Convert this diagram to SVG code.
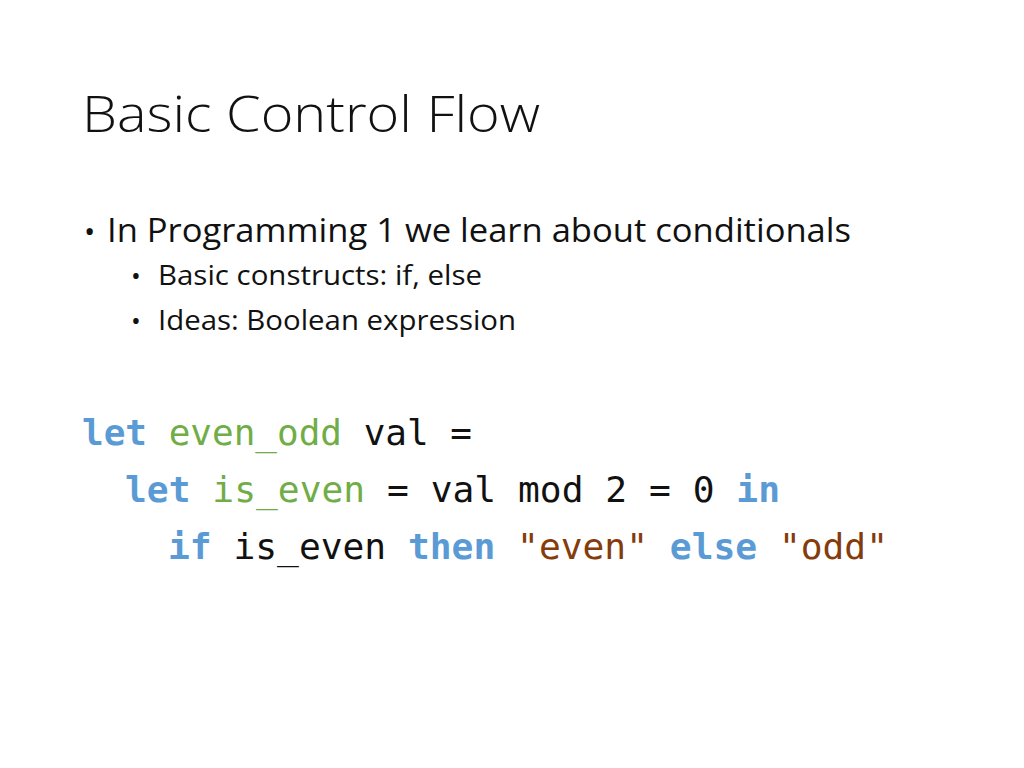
<svg xmlns="http://www.w3.org/2000/svg" width="1024" height="768" viewBox="0 0 1024 768">
<style>
.t{font-family:"Open Sans","Liberation Sans",sans-serif;fill:#111}
.c{font-family:"DejaVu Sans Mono","Liberation Mono",monospace;font-size:36px;fill:#111}
.k{fill:#5b9bd5;font-weight:bold}
.g{fill:#70ad47}
.s{fill:#843c0c}
</style>
<rect width="1024" height="768" fill="#fff"/>
<text class="t" x="82" y="132" font-size="50" font-weight="300" textLength="458" lengthAdjust="spacingAndGlyphs">Basic Control Flow</text>
<text class="t" x="84" y="242" font-size="30">•</text>
<text class="t" x="107" y="242" font-size="32" textLength="744" lengthAdjust="spacingAndGlyphs">In Programming 1 we learn about conditionals</text>
<text class="t" x="131" y="285" font-size="26">•</text>
<text class="t" x="158" y="285" font-size="28" textLength="324" lengthAdjust="spacingAndGlyphs">Basic constructs: if, else</text>
<text class="t" x="131" y="330" font-size="26">•</text>
<text class="t" x="158" y="330" font-size="28" textLength="358" lengthAdjust="spacingAndGlyphs">Ideas: Boolean expression</text>
<text class="c" x="82" y="445" xml:space="preserve" textLength="390" lengthAdjust="spacingAndGlyphs"><tspan class="k">let</tspan> <tspan class="g">even_odd</tspan> val =</text>
<text class="c" x="125" y="502" xml:space="preserve" textLength="655" lengthAdjust="spacingAndGlyphs"><tspan class="k">let</tspan> <tspan class="g">is_even</tspan> = val mod 2 = 0 <tspan class="k">in</tspan></text>
<text class="c" x="168" y="559" xml:space="preserve" textLength="720" lengthAdjust="spacingAndGlyphs"><tspan class="k">if</tspan> is_even <tspan class="k">then</tspan> <tspan class="s">"even"</tspan> <tspan class="k">else</tspan> <tspan class="s">"odd"</tspan></text>
</svg>
